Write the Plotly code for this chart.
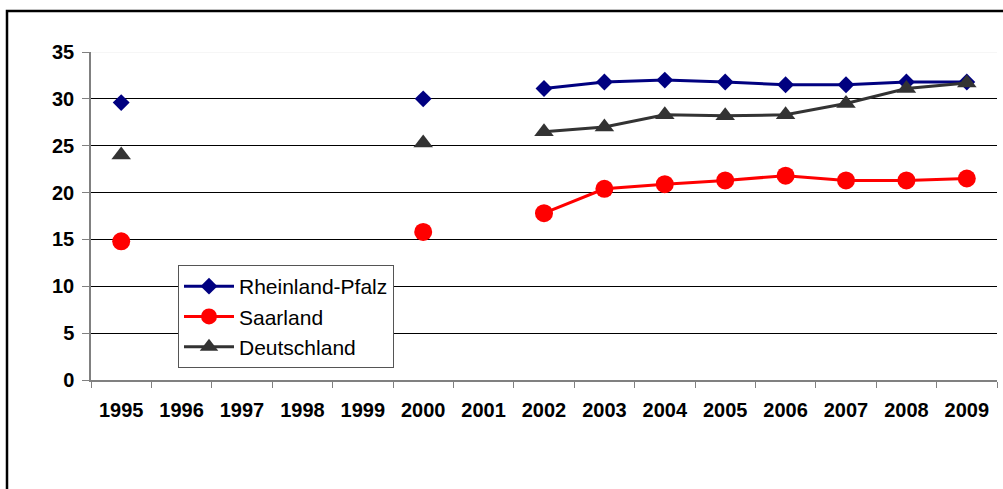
import plotly.graph_objects as go

years = [str(y) for y in range(1995, 2010)]

rheinland_pfalz = [29.6, None, None, None, None, 30.0, None, 31.1, 31.8, 32.0, 31.8, 31.5, 31.5, 31.8, 31.8]
saarland = [14.8, None, None, None, None, 15.8, None, 17.8, 20.4, 20.9, 21.3, 21.8, 21.3, 21.3, 21.5]
deutschland = [24.0, None, None, None, None, 25.3, None, 26.5, 27.0, 28.3, 28.2, 28.3, 29.5, 31.1, 31.7]

y_ticks = [0, 5, 10, 15, 20, 25, 30, 35]

FONT = "Arial, Liberation Sans, sans-serif"
W, H = 1003, 489
L, R, T, B = 91, 6, 52, 109
pw, ph = W - L - R, H - T - B

fig = go.Figure()

series = [
    ("Rheinland-Pfalz", rheinland_pfalz, "#000080", "diamond", 13),
    ("Saarland", saarland, "#FF0000", "circle", 18),
    ("Deutschland", deutschland, "#333333", "triangle-up", 17),
]
for name, vals, color, symbol, size in series:
    fig.add_trace(go.Scatter(
        x=years, y=vals, name=name, mode="lines+markers",
        line=dict(color=color, width=3),
        marker=dict(symbol=symbol, size=size, color=color, line=dict(width=0)),
        connectgaps=False,
    ))

# outer chart frame (runs off the right and bottom of the page)
def px_x(px):
    return (px - L) / pw

def px_y(py):
    return (H - B - py) / ph

fig.add_shape(type="rect", xref="paper", yref="paper",
              x0=px_x(7), x1=px_x(1015), y0=px_y(500), y1=px_y(11),
              line=dict(color="black", width=2.5), layer="below")
# pale top edge of the plot area
fig.add_shape(type="line", xref="paper", yref="y", x0=0, x1=1, y0=35, y1=35,
              line=dict(color="#eeeeee", width=1), layer="above")

fig.update_layout(
    width=W, height=H,
    margin=dict(l=L, r=R, t=T, b=B),
    paper_bgcolor="white", plot_bgcolor="white",
    font=dict(family=FONT, color="black"),
    showlegend=True,
    legend=dict(
        x=px_x(178), y=px_y(265), xanchor="left", yanchor="top",
        bgcolor="white", bordercolor="#555555", borderwidth=1,
        font=dict(family=FONT, size=21, color="black"),
        itemwidth=50,
        tracegroupgap=0,
    ),
    xaxis=dict(
        type="category", categoryorder="array", categoryarray=years,
        range=[-0.5, len(years) - 0.5],
        showgrid=False, showline=True, linecolor="#808080", linewidth=1.5,
        ticks="outside", tickson="boundaries", ticklen=6, tickcolor="#808080", tickwidth=1,
        tickfont=dict(family=FONT, size=20, color="black", weight="bold"),
        ticklabelstandoff=11,
        zeroline=False,
    ),
    yaxis=dict(
        range=[0, 35], tickvals=y_ticks,
        showgrid=True, gridcolor="black", gridwidth=1,
        showline=True, linecolor="#808080", linewidth=1.5,
        ticks="outside", ticklen=7, tickcolor="#808080", tickwidth=1,
        tickfont=dict(family=FONT, size=20, color="black", weight="bold"),
        ticklabelstandoff=4,
        zeroline=False,
    ),
)

fig.write_html("out.html")
